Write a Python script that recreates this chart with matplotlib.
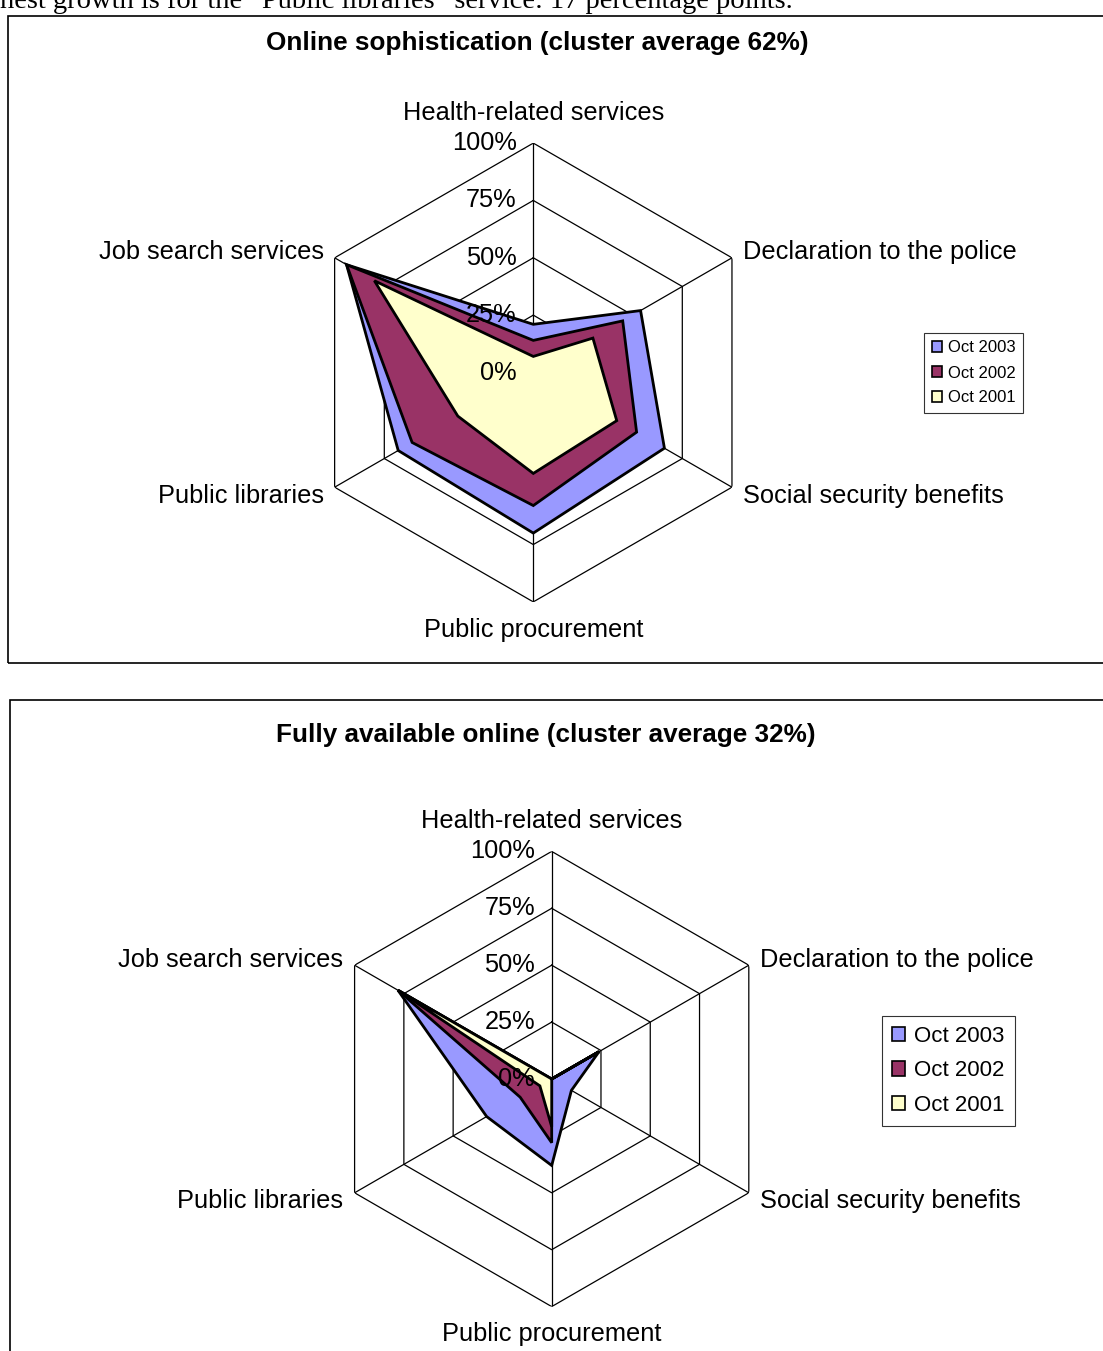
import numpy as np
import matplotlib
matplotlib.use('Agg')
import matplotlib.pyplot as plt
from matplotlib.patches import Rectangle, Patch

plt.rcParams['font.family'] = ['Liberation Sans', 'DejaVu Sans']

# Данные
categories = ['Health-related services', 'Declaration to the police', 'Social security benefits',
              'Public procurement', 'Public libraries', 'Job search services']
series_names = ['Oct 2003', 'Oct 2002', 'Oct 2001']
colors = ['#9999FF', '#993366', '#FFFFCC']
ticks = [0, 25, 50, 75, 100]
tick_labels = ['0%', '25%', '50%', '75%', '100%']

# Online sophistication
soph_2003 = [21, 54, 66, 70, 68, 94]
soph_2002 = [14, 45, 52, 58, 61, 94]
soph_2001 = [7, 30, 42, 44, 38, 80]

# Fully available online
full_2003 = [0, 24, 10, 38, 33, 78]
full_2002 = [0, 24, 0, 28, 16, 78]
full_2001 = [0, 24, 0, 21, 6, 78]

W, H = 1103, 1351
fig = plt.figure(figsize=(W / 100, H / 100), dpi=100)

# обрезанная строка текста сверху
fig.text(0, 1 - 8 / H, 'hest growth is for the \u201cPublic libraries\u201d service: 17 percentage points.',
         family=['Liberation Serif', 'DejaVu Serif'], fontsize=20.5, va='baseline', ha='left')

# рамки диаграмм
fig.add_artist(Rectangle((8 / W, 1 - 663 / H), 1.1, (663 - 16) / H, transform=fig.transFigure,
                         fill=False, edgecolor='black', lw=1.2))
fig.add_artist(Rectangle((10 / W, -0.05), 1.1, 1 - 700 / H + 0.05, transform=fig.transFigure,
                         fill=False, edgecolor='black', lw=1.2))

angles = np.arange(6) * 2 * np.pi / 6
angles_closed = np.append(angles, angles[0])


def radar(cx, cy, rad, title, title_xy, data, leg_xy, leg_fs):
    ax = fig.add_axes([(cx - rad) / W, 1 - (cy + rad) / H, 2 * rad / W, 2 * rad / H],
                      projection='polar')
    ax.set_theta_offset(np.pi / 2)
    ax.set_theta_direction(-1)
    ax.set_ylim(0, 100)
    ax.grid(False)
    ax.spines['polar'].set_visible(False)
    ax.set_xticks([])
    ax.set_yticks([])
    ax.patch.set_alpha(0)

    for t in ticks[1:]:
        ax.plot(angles_closed, [t] * 7, color='black', lw=0.9, zorder=1)
    for a in angles:
        ax.plot([a, a], [0, 100], color='black', lw=0.9, zorder=1)

    for i, vals in enumerate(data):
        v = np.append(vals, vals[0])
        ax.fill(angles_closed, v, facecolor=colors[i], edgecolor='black', lw=2, zorder=2 + i)

    for t, lab in zip(ticks, tick_labels):
        ax.annotate(lab, xy=(0, t), xytext=(-12, 0), textcoords='offset points',
                    ha='right', va='center', fontsize=18.3, zorder=10)

    offs = [((0, 22), 'center'), ((8, 4), 'left'), ((8, -6), 'left'),
            ((0, -20), 'center'), ((-8, -6), 'right'), ((-8, 4), 'right')]
    for a, lab, (off, ha) in zip(angles, categories, offs):
        ax.annotate(lab, xy=(a, 100), xytext=off, textcoords='offset points',
                    ha=ha, va='center', fontsize=18.3)

    fig.text(title_xy[0] / W, 1 - title_xy[1] / H, title, ha='center', va='center',
             fontsize=18.8, fontweight='bold')

    handles = [Patch(facecolor=c, edgecolor='black', lw=1.2) for c in colors]
    ax.legend(handles, series_names, loc='upper left',
              bbox_to_anchor=(leg_xy[0] / W, 1 - leg_xy[1] / H), bbox_transform=fig.transFigure,
              fontsize=leg_fs, frameon=True, fancybox=False, edgecolor='black',
              handlelength=0.6, handleheight=0.6, handletextpad=0.4, labelspacing=0.6,
              borderpad=0.45, borderaxespad=0)
    ax.get_legend().get_frame().set_linewidth(0.8)


radar(533.3, 372.5, 229.4, 'Online sophistication (cluster average 62%)', (537, 43),
      [soph_2003, soph_2002, soph_2001], (924, 333), 12)
radar(551.7, 1079, 227.6, 'Fully available online (cluster average 32%)', (546, 735),
      [full_2003, full_2002, full_2001], (882, 1016), 16)

plt.savefig('out.png', dpi=100)
